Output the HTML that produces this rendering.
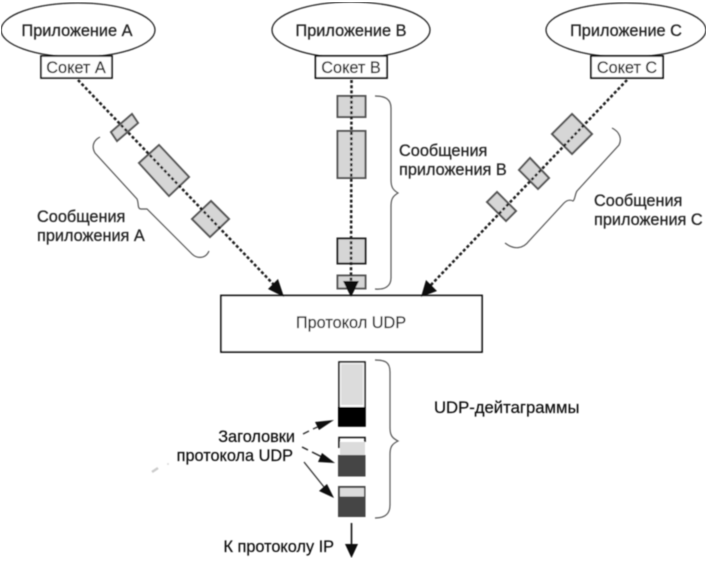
<!DOCTYPE html>
<html>
<head>
<meta charset="utf-8">
<style>
html,body{margin:0;padding:0;background:#fff;width:716px;height:565px;overflow:hidden}
svg{display:block}
text{font-family:"Liberation Sans",sans-serif;font-size:16.3px;fill:#222;stroke:#222;stroke-width:0.25}
.b{fill:#111}
.o{fill:none;stroke:#222;stroke-width:1.3}
.brace{fill:none;stroke:#555;stroke-width:1.2}
.msg{fill:#d6d6d6;stroke:#555;stroke-width:2}
.dash{stroke:#1c1c1c;stroke-width:2.5;stroke-dasharray:3 2.2;fill:none}
</style>
</head>
<body>
<svg width="716" height="565" viewBox="0 0 716 565" xmlns="http://www.w3.org/2000/svg">
<defs><filter id="soft" x="0" y="0" width="100%" height="100%"><feGaussianBlur stdDeviation="0.45"/></filter></defs>
<g filter="url(#soft)">

<!-- ellipses -->
<ellipse class="o" cx="78" cy="30" rx="77" ry="27"/>
<ellipse class="o" cx="351" cy="30" rx="79" ry="28"/>
<ellipse class="o" cx="626" cy="30" rx="80" ry="27"/>

<!-- sockets -->
<rect x="41" y="56" width="71" height="22" fill="#fff" stroke="#111" stroke-width="1.7"/>
<rect x="315.500" y="56" width="71.500" height="22" fill="#fff" stroke="#111" stroke-width="1.8"/>
<rect x="591" y="56" width="72" height="22" fill="#fff" stroke="#111" stroke-width="1.8"/>

<text x="77" y="36" text-anchor="middle">Приложение А</text>
<text x="351" y="36" text-anchor="middle">Приложение В</text>
<text x="626" y="36" text-anchor="middle">Приложение С</text>
<text x="76" y="73" text-anchor="middle">Сокет А</text>
<text x="351" y="73" text-anchor="middle">Сокет В</text>
<text x="627" y="73" text-anchor="middle">Сокет С</text>

<!-- message blocks -->
<polygon class="msg" points="132,114 138,123 117,141 111,132"/>
<polygon class="msg" points="159,145 189,177 169,196 139,163"/>
<polygon class="msg" points="211,201 229,219 210,237 192,219"/>
<rect class="msg" x="337.500" y="96" width="28" height="21"/>
<rect class="msg" x="337.500" y="131" width="28" height="47"/>
<rect class="msg" x="337.500" y="238.500" width="28" height="25" style="stroke:#222"/>
<rect class="msg" x="337.500" y="275.500" width="28" height="13"/>
<polygon class="msg" points="572,114 592,134 572,154 552,134"/>
<polygon class="msg" points="530,158 549,178 538,189 519,170"/>
<polygon class="msg" points="497,192 516,211 506,221 487,202"/>

<!-- dashed connectors -->
<line class="dash" x1="78" y1="80" x2="276" y2="287"/>
<line class="dash" x1="351.500" y1="80" x2="351" y2="284"/>
<line class="dash" x1="627" y1="80" x2="429" y2="287"/>

<!-- braces -->
<path class="brace" d="M100,137 C94,140 91,146 95,153 L137,199 C139,203 137,209 141,209 L147,209 L192,254 C196,258 205,260 209,251"/>
<path class="brace" d="M375,96 C385,96 391,99 391,108 L391,180 C391,187 393,190 398,193 C393,196 391,199 391,206 L391,278 C391,286 385,290 375,289"/>
<path class="brace" d="M612,128 C620,132 622,139 619,145 L577,191 C575,194 575,200 573,201 C569,199 566,201 564,203 L529,241 C523,249 514,250 505,243"/>
<path class="brace" d="M375,360 C385,360 390,362 390,372 L390,428 C390,435 392,438 398,441 C392,444 390,447 390,454 L390,505 C390,514 385,518 375,518"/>

<!-- labels -->
<text x="37" y="222">Сообщения</text>
<text x="37" y="241">приложения А</text>
<text x="399" y="156">Сообщения</text>
<text x="399" y="175">приложения В</text>
<text x="594" y="206">Сообщения</text>
<text x="594" y="225">приложения С</text>

<!-- UDP box -->
<rect x="221" y="295.500" width="261" height="56.500" fill="#fff" stroke="#111" stroke-width="1.8"/>
<polygon class="b" points="284,297 268,289 278,279"/>
<polygon class="b" points="351,297 343,281 359,281"/>
<polygon class="b" points="421,297 426,280 437,291"/>
<text x="351" y="328" text-anchor="middle">Протокол UDP</text>

<!-- datagrams -->
<rect x="339" y="362" width="26" height="64" fill="#fff" stroke="#111" stroke-width="1.6"/>
<rect x="341" y="364" width="22" height="41" fill="#dcdcdc"/>
<rect x="338" y="407" width="27.500" height="19.500" fill="#000"/>
<path d="M339,448 L339,437.500 L365,437.500 L365,442" fill="none" stroke="#111" stroke-width="1.6"/>
<rect x="340" y="442" width="25" height="13" fill="#dcdcdc"/>
<rect x="338" y="455" width="27.500" height="21.500" fill="#444"/>
<rect x="338" y="486" width="27.500" height="31" fill="#444"/>
<rect x="340" y="488" width="24" height="8.500" fill="#dcdcdc"/>

<!-- header labels -->
<text x="295" y="442" text-anchor="end" style="fill:#111">Заголовки</text>
<text x="293" y="461" text-anchor="end" style="fill:#111">протокола UDP</text>
<text x="434" y="413" style="fill:#111;font-size:16.7px">UDP-дейтаграммы</text>
<text x="334" y="552" text-anchor="end" style="fill:#111">К протоколу IP</text>

<!-- header arrows -->
<path d="M303,434 L309,431 M313,429 L322,425" stroke="#333" stroke-width="1.3" fill="none"/>
<polygon class="b" points="334,420 319,430 315,422"/>
<path d="M302,447 L308,450 M312,452 L322,457" stroke="#222" stroke-width="1.3" fill="none"/>
<polygon class="b" points="335,463 318,462 322,453"/>
<line x1="304" y1="462" x2="324" y2="487" stroke="#333" stroke-width="1.3"/>
<polygon class="b" points="334,498 319,491 327,484"/>

<!-- IP arrow -->
<line x1="351.500" y1="523" x2="351.500" y2="548" stroke="#111" stroke-width="1.6"/>
<polygon class="b" points="351.500,558 345,544 358,544"/>

<!-- scan specks -->
<path d="M152,472 L158,468" stroke="#ccc" stroke-width="2.5"/>
<circle cx="168" cy="464" r="1" fill="#ddd"/>
</g>
</svg>
</body>
</html>
